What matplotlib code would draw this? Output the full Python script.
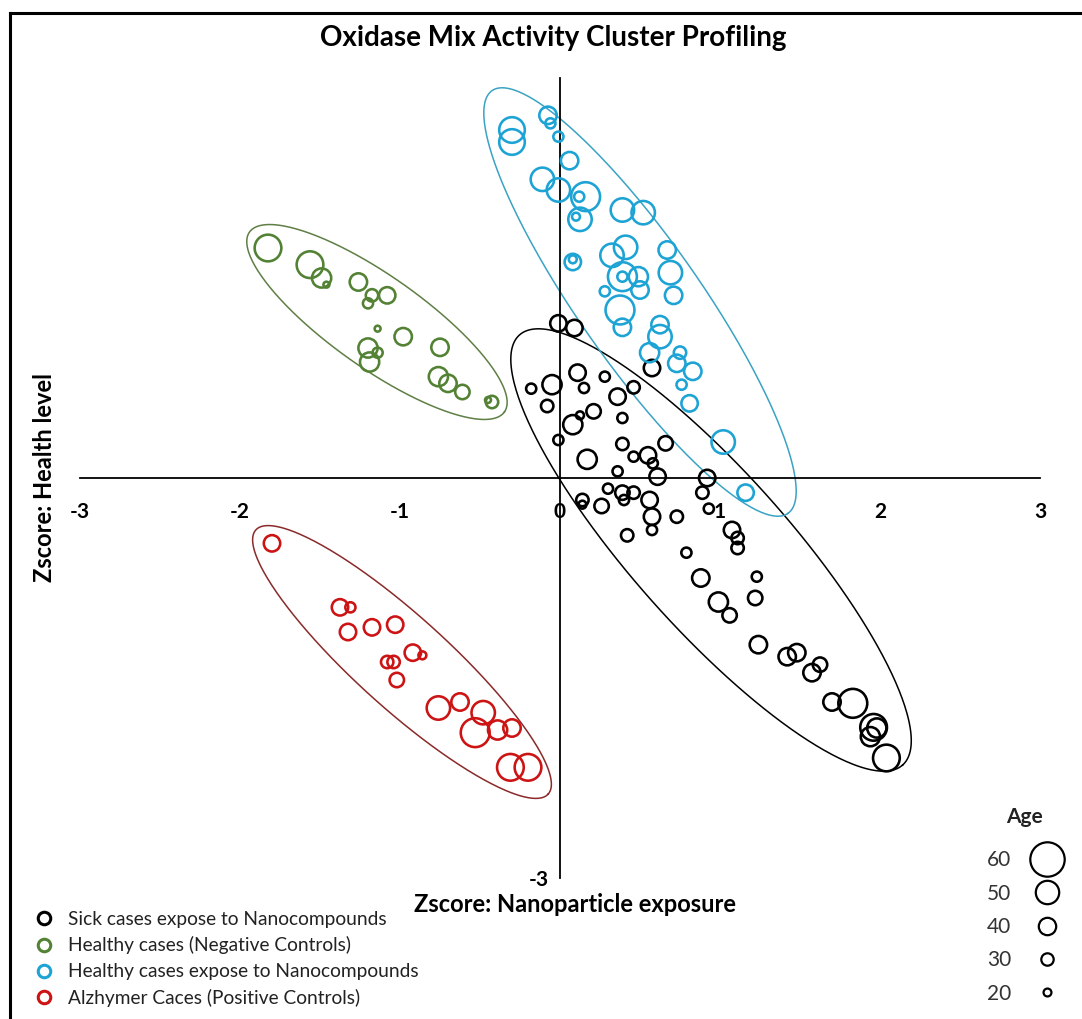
import numpy as np
import matplotlib.pyplot as plt
from matplotlib.lines import Line2D

plt.rcParams['font.family'] = ['Lato', 'DejaVu Sans']
plt.rcParams['axes.unicode_minus'] = False

# Sick cases expose to Nanocompounds
sick_x = [-0.01, 0.09, 0.575, 0.11, 0.28, -0.05, 0.15, -0.18, 0.46, 0.36,
          -0.08, 0.21, 0.125, 0.08, 0.39, -0.01, 0.39, 0.66, 0.17, 0.46,
          0.55, 0.58, 0.36, 0.61, 0.92, 0.30, 0.39, 0.46, 0.40, 0.56,
          0.14, 0.14, 0.26, 0.89, 0.575, 0.73, 0.93, 0.42, 0.575, 1.075,
          1.11, 1.11, 0.79, 1.23, 0.88, 0.99, 1.06, 1.22, 1.24, 1.42,
          1.48, 1.575, 1.625, 1.70, 1.83, 1.96, 1.98, 1.94, 2.04]
sick_y = [1.16, 1.125, 0.825, 0.79, 0.76, 0.70, 0.675, 0.67, 0.68, 0.61,
          0.54, 0.50, 0.47, 0.40, 0.45, 0.285, 0.255, 0.26, 0.14, 0.16,
          0.17, 0.11, 0.05, 0.01, 0.0, -0.08, -0.11, -0.11, -0.165, -0.165,
          -0.165, -0.20, -0.21, -0.11, -0.29, -0.29, -0.23, -0.43, -0.39, -0.39,
          -0.45, -0.525, -0.56, -0.74, -0.75, -0.93, -1.03, -0.90, -1.25, -1.34,
          -1.31, -1.46, -1.40, -1.68, -1.69, -1.87, -1.875, -1.94, -2.10]
sick_age = [38, 38, 38, 38, 25, 43, 25, 25, 30, 38,
            30, 34, 20, 43, 25, 25, 30, 34, 43, 25,
            38, 25, 25, 38, 38, 25, 34, 30, 25, 38,
            30, 20, 34, 30, 38, 30, 25, 30, 25, 38,
            30, 30, 25, 25, 40, 43, 34, 34, 40, 40,
            40, 40, 34, 40, 55, 53, 43, 43, 53]

# Healthy cases (Negative Controls)
neg_x = [-1.825, -1.5625, -1.49, -1.46, -1.26, -1.08, -1.175, -1.20, -1.14, -0.98,
         -0.75, -1.20, -1.14, -1.19, -0.76, -0.70, -0.61, -0.425, -0.45]
neg_y = [1.725, 1.60, 1.50, 1.45, 1.47, 1.37, 1.37, 1.31, 1.12, 1.06,
         0.98, 0.975, 0.94, 0.87, 0.76, 0.71, 0.645, 0.57, 0.585]
neg_age = [53, 53, 43, 17, 40, 38, 30, 25, 17, 40,
           40, 43, 25, 43, 43, 40, 34, 30, 17]

# Healthy cases expose to Nanocompounds
nano_x = [-0.30, -0.30, -0.075, -0.06, -0.01, 0.06, -0.11, -0.01, 0.16, 0.12,
          0.125, 0.10, 0.39, 0.52, 0.08, 0.08, 0.325, 0.41, 0.67, 0.69,
          0.39, 0.39, 0.49, 0.50, 0.28, 0.71, 0.375, 0.39, 0.625, 0.625,
          0.56, 0.75, 0.73, 0.83, 0.76, 0.81, 1.02, 1.16]
nano_y = [2.61, 2.52, 2.72, 2.66, 2.56, 2.38, 2.24, 2.16, 2.11, 2.11,
          1.94, 1.96, 2.01, 1.99, 1.62, 1.64, 1.67, 1.73, 1.71, 1.54,
          1.51, 1.51, 1.51, 1.41, 1.40, 1.37, 1.26, 1.13, 1.15, 1.06,
          0.94, 0.94, 0.86, 0.80, 0.70, 0.56, 0.27, -0.11]
nano_age = [52, 52, 40, 25, 25, 40, 50, 50, 55, 25,
            50, 20, 50, 50, 38, 20, 50, 50, 40, 50,
            55, 25, 43, 40, 25, 40, 55, 40, 40, 50,
            43, 30, 40, 40, 25, 38, 50, 38]

# Alzhymer Caces (Positive Controls)
pos_x = [-1.80, -1.375, -1.31, -1.325, -1.175, -1.03, -1.08, -1.04, -0.92, -0.86,
         -1.02, -0.76, -0.625, -0.48, -0.53, -0.39, -0.30, -0.31, -0.20]
pos_y = [-0.49, -0.97, -0.97, -1.155, -1.12, -1.10, -1.38, -1.38, -1.31, -1.33,
         -1.515, -1.725, -1.68, -1.76, -1.91, -1.89, -1.875, -2.17, -2.17]
pos_age = [38, 38, 25, 38, 38, 38, 30, 30, 38, 20,
           34, 50, 40, 50, 55, 43, 40, 53, 53]

groups = ['Sick cases expose to Nanocompounds', 'Healthy cases (Negative Controls)',
          'Healthy cases expose to Nanocompounds', 'Alzhymer Caces (Positive Controls)']
colors = ['#000000', '#548235', '#1ea3d5', '#cc1414']
ring_colors = ['#000000', '#5f7f45', '#3aa3c4', '#8a2a2a']

# cluster outlines: centre (data), semi axes (px), angle (deg, screen)
rings = [(0.944, -0.54, 288, 78, -48.3),
         (-1.144, 1.17, 156, 46, -35.2),
         (0.50, 1.32, 258, 61, -55.0),
         (-0.9875, -1.38, 197, 46, -42.1)]

legend_ages = [60, 50, 40, 30, 20]

W, H = 1082, 1019
fig = plt.figure(figsize=(W / 100, H / 100), dpi=100)
ax = fig.add_axes([80 / W, 1 - 878 / H, 960 / W, 800 / H])
ax.set_xlim(-3, 3)
ax.set_ylim(-3, 3)
SX, SY = 960 / 6, 800 / 6
LW = 2.6


def diam(age):
    # outer circle diameter in px
    return np.interp(age, [17, 20, 30, 40, 50, 60], [8.5, 10.5, 15, 20, 26, 37])


def msize(age):
    return (diam(age) - LW) * 0.72


data = [(sick_x, sick_y, sick_age), (neg_x, neg_y, neg_age),
        (nano_x, nano_y, nano_age), (pos_x, pos_y, pos_age)]

for (xs, ys, ages), c in zip(data, colors):
    s = msize(np.array(ages)) ** 2
    ax.scatter(xs, ys, s=s, facecolors='none', edgecolors=c, linewidths=LW * 0.72, zorder=3)

t = np.linspace(0, 2 * np.pi, 400)
for (cx, cy, a, b, ang), c in zip(rings, ring_colors):
    r = np.radians(ang)
    ex = a * np.cos(t) * np.cos(r) - b * np.sin(t) * np.sin(r)
    ey = a * np.cos(t) * np.sin(r) + b * np.sin(t) * np.cos(r)
    ax.plot(cx + ex / SX, cy + ey / SY, color=c, lw=1.1, zorder=2)

for side in ['top', 'right']:
    ax.spines[side].set_visible(False)
ax.spines['left'].set_position('zero')
ax.spines['bottom'].set_position('zero')
ax.spines['left'].set_linewidth(1.3)
ax.spines['bottom'].set_linewidth(1.3)
ax.set_xticks([-3, -2, -1, 0, 1, 2, 3])
ax.set_yticks([-3])
ax.tick_params(length=0, labelsize=15)
ax.tick_params(axis='x', pad=17)
ax.tick_params(axis='y', pad=8)
for lab in ax.get_xticklabels() + ax.get_yticklabels():
    lab.set_fontweight('bold')

fig.text(553 / W, 1 - 38 / H, 'Oxidase Mix Activity Cluster Profiling',
         ha='center', va='center', fontsize=20, fontweight='bold')
fig.text(575 / W, 1 - 905 / H, 'Zscore: Nanoparticle exposure',
         ha='center', va='center', fontsize=17, fontweight='bold')
fig.text(45 / W, 1 - 478 / H, 'Zscore: Health level', rotation=90,
         ha='center', va='center', fontsize=17, fontweight='bold')

# frame
fig.add_artist(Line2D([10 / W, 10 / W], [0, 1 - 13 / H], transform=fig.transFigure, color='k', lw=2.2))
fig.add_artist(Line2D([10 / W, 1], [1 - 13 / H, 1 - 13 / H], transform=fig.transFigure, color='k', lw=2.2))

handles = [Line2D([], [], ls='none', marker='o', markersize=9, markerfacecolor='none',
                  markeredgecolor=c, markeredgewidth=2.2) for c in colors]
fig.legend(handles, groups, loc='upper left', bbox_to_anchor=(25 / W, 1 - 901 / H),
           frameon=False, fontsize=13.8, handlelength=1.0, handletextpad=0.75,
           labelspacing=0.46, borderpad=0, labelcolor='#222222')

age_handles = [Line2D([], [], ls='none', marker='o', markersize=msize(a), markerfacecolor='none',
                      markeredgecolor='k', markeredgewidth=1.6) for a in legend_ages]
fig.legend(age_handles, [str(a) for a in legend_ages], loc='upper right',
           bbox_to_anchor=(1078 / W, 1 - 840 / H), frameon=False, fontsize=15,
           markerfirst=False, handlelength=2.0, handletextpad=0.7, labelspacing=0.64,
           borderpad=0, labelcolor='#333333')
fig.text(1024 / W, 1 - 817 / H, 'Age', ha='center', va='center',
         fontsize=15, fontweight='bold', color='#222222')

fig.savefig('out.png', dpi=100)
